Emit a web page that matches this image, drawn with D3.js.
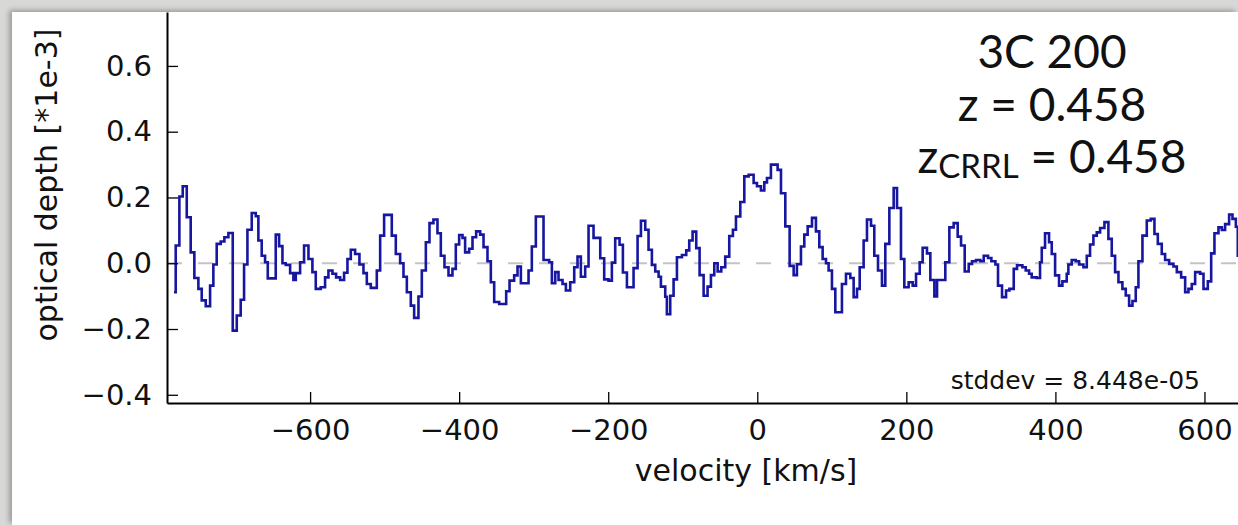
<!DOCTYPE html>
<meta charset="utf-8">
<style>
  body {
    margin: 0;
    background: #d8d8d6;
    width: 1238px;
    height: 525px;
    overflow: hidden;
  }
  #panel {
    position: absolute;
    left: 12px; top: 12px;
    width: 1226px; height: 513px;
    background: #fff;
    box-shadow: -3px -2px 5px rgba(0,0,0,0.28);
  }
  svg { position: absolute; left: 0; top: 0; }
  text { font-family: 'DejaVu Sans', sans-serif; fill: #111; }
  .tick line { stroke: #000; stroke-width: 1.3; }
  .domain { stroke: #000; stroke-width: 2; }
</style>
<body>
<div id="panel"></div>
<script src="https://cdn.jsdelivr.net/npm/d3@7"></script>
<script>

// left edge of each channel [km/s]
var velEdges = [
  -782.6, -780.3, -775.4, -770.9, -765.5, -760.2, -755.3, -749.9, -745.4, -740.0,
  -734.2, -729.8, -725.3, -719.9, -715.0, -709.6, -703.8, -698.4, -693.1, -688.6,
  -684.1, -678.3, -672.9, -669.4, -664.9, -660.4, -656.8, -646.1, -641.6, -637.1,
  -632.7, -626.8, -622.4, -619.2, -613.4, -608.1, -602.2, -596.9, -592.4, -585.7,
  -579.9, -575.4, -570.0, -565.1, -559.7, -554.4, -549.9, -545.4, -539.6, -533.8,
  -528.4, -523.9, -518.6,
  -510.5, -506.0, -500.7, -490.4, -485.0, -479.2, -474.7, -470.2, -464.9, -460.4,
  -454.6, -450.1, -444.7, -439.8, -434.5, -429.1, -424.6, -419.7, -414.3, -409.0,
  -404.5, -400.0, -395.5, -392.0, -386.6, -382.1, -377.2, -371.8, -367.3, -362.0,
  -357.5, -353.0, -346.3, -336.9, -332.4, -326.2, -321.7, -317.2, -306.9, -302.5,
  -297.1, -286.8, -279.2, -275.6, -271.1, -266.7, -261.3, -256.8, -251.0, -245.6,
  -241.2, -236.7, -230.9, -226.4, -219.7,
  -210.7, -205.4, -199.6, -195.1, -190.6, -184.8, -180.3, -174.9, -166.0, -160.6,
  -156.1, -150.3, -145.9, -141.4, -136.9, -132.4, -129.3, -123.5, -121.3, -116.8,
  -112.3, -107.8, -101.1, -95.3, -91.3, -86.8, -81.9, -77.4, -72.0, -66.7,
  -62.2, -57.7, -53.2, -48.3, -43.0, -37.6, -32.7, -28.6, -22.8, -17.4,
  -11.6, -4.9, -0.4, 4.9, 9.4, 13.0, 18.3, 27.3, 31.8, 37.6,
  43.4, 48.8, 53.2, 58.6, 63.1, 67.6,
  73.4, 78.7, 83.2, 87.7, 92.2, 95.7, 100.2, 104.7, 113.6, 119.0,
  124.8, 129.3, 133.8, 137.4, 142.7, 147.2, 152.6, 157.0, 162.0, 167.3,
  171.8, 177.2, 183.0, 187.5, 192.8, 197.3, 203.1, 208.5, 213.0, 217.9,
  221.9, 227.7, 232.2, 237.6, 241.2, 252.3, 257.7, 263.5, 268.9, 273.4,
  278.3, 283.7, 288.1, 293.5, 299.3, 303.8, 309.6, 314.1, 319.5, 323.0,
  328.4, 333.8, 338.3, 344.1, 348.5,
  355.7, 360.2, 364.7, 368.2, 374.9, 379.4, 381.7, 386.1, 391.5, 395.1,
  399.6, 404.9, 409.4, 415.2, 417.4, 421.9, 427.3, 431.8, 437.6, 442.1,
  446.5, 451.0, 455.5, 460.0, 465.8, 471.1, 475.6, 480.1, 484.6, 489.9,
  494.4, 498.9, 503.4, 507.8, 511.4, 516.8, 522.6, 528.0, 532.9, 537.4,
  542.7, 547.2, 552.6, 558.4, 562.9, 568.7, 574.1, 578.5, 583.0, 587.5,
  594.2, 598.7, 604.5, 609.0, 613.4, 618.8, 623.3, 627.7, 633.1, 637.6,
  642.1, 644.7, 650.0
];

// optical depth per channel [*1e-3]
var tau = [
  -0.088, 0.054, 0.203, 0.234, 0.140, 0.033, -0.045, -0.078, -0.113, -0.131,
  -0.068, -0.004, 0.059, 0.066, 0.079, 0.092, -0.205, -0.159, -0.111, -0.004,
  0.102, 0.153, 0.143, 0.069, 0.023, 0.003, -0.046, 0.087, 0.052, 0.000,
  -0.005, -0.030, -0.051, -0.030, 0.003, 0.054, 0.013, -0.027, -0.078, -0.073,
  -0.043, -0.022, -0.032, -0.043, -0.051, -0.029, 0.013, 0.041, 0.028, -0.004,
  -0.030, -0.063, -0.075,
  -0.022, 0.084, 0.147, 0.084, 0.028, 0.000, -0.041, -0.088, -0.129, -0.166,
  -0.101, -0.022, 0.064, 0.122, 0.133, 0.091, 0.023, -0.012, -0.037, -0.017,
  0.057, 0.086, 0.077, 0.033, 0.044, 0.079, 0.097, 0.087, 0.049, 0.006,
  -0.058, -0.118, -0.124, -0.085, -0.053, -0.037, -0.010, -0.061, -0.022, 0.051,
  0.142, 0.010, 0.003, -0.061, -0.027, -0.051, -0.063, -0.083, -0.058, -0.012,
  0.020, -0.041, -0.010, 0.114, 0.077,
  0.015, -0.049, -0.053, 0.002, 0.076, 0.056, -0.028, -0.073, -0.015, 0.083,
  0.129, 0.102, 0.041, -0.005, -0.025, -0.041, -0.071, -0.102, -0.155, -0.099,
  -0.049, 0.018, 0.025, 0.039, 0.069, 0.096, 0.046, -0.036, -0.099, -0.071,
  -0.036, 0.000, -0.025, -0.012, 0.020, 0.083, 0.102, 0.142, 0.186, 0.264,
  0.269, 0.244, 0.234, 0.221, 0.246, 0.259, 0.300, 0.284, 0.213, 0.112,
  -0.008, -0.036, -0.003, 0.051, 0.087, 0.112,
  0.138, 0.097, 0.049, 0.013, 0.000, -0.022, -0.078, -0.149, -0.063, -0.032,
  -0.045, -0.103, -0.078, -0.012, 0.069, 0.133, 0.114, 0.023, -0.022, -0.068,
  0.059, 0.168, 0.229, 0.168, 0.013, -0.073, -0.058, -0.068, -0.032, 0.003,
  0.047, 0.030, -0.051, -0.101, -0.051, 0.003, 0.109, 0.122, 0.081, 0.054,
  -0.025, -0.002, 0.006, 0.010, 0.006, 0.023, 0.016, 0.006, -0.004, -0.068,
  -0.103, -0.083, -0.078, -0.017, -0.006,
  -0.012, -0.022, -0.032, -0.043, -0.045, 0.003, 0.047, 0.091, 0.064, 0.028,
  -0.037, -0.068, -0.055, -0.032, -0.004, 0.010, 0.006, -0.004, -0.012, 0.023,
  0.057, 0.084, 0.094, 0.107, 0.125, 0.074, 0.023, -0.027, -0.058, -0.078,
  -0.098, -0.129, -0.115, -0.073, 0.006, 0.084, 0.130, 0.135, 0.089, 0.059,
  0.028, 0.010, -0.002, -0.010, -0.027, -0.043, -0.088, -0.078, -0.063, -0.027,
  -0.032, -0.078, -0.055, 0.030, 0.091, 0.109, 0.101, 0.119, 0.148, 0.135,
  0.111, 0.023, 0.023
];

var xTicks = [-600, -400, -200, 0, 200, 400, 600];
var yTicks = [-0.4, -0.2, 0.0, 0.2, 0.4, 0.6];

var data = velEdges.map(function(v, i) { return {v: v, t: tau[i]}; });

var x = d3.scaleLinear().domain([-792, 645]).range([167, 1238]);
var y = d3.scaleLinear().domain([-0.425, 0.764]).range([403, 12]);

var svg = d3.select("body").append("svg")
    .attr("width", 1238)
    .attr("height", 525);

svg.append("clipPath").attr("id", "plotclip")
  .append("rect")
    .attr("x", 167).attr("y", 12)
    .attr("width", 1238 - 167).attr("height", 403 - 12);

// zero line
svg.append("line")
    .attr("x1", 167).attr("x2", 1238)
    .attr("y1", y(0)).attr("y2", y(0))
    .attr("stroke", "#c4c4c4")
    .attr("stroke-width", 2)
    .attr("stroke-dasharray", "15,16");

// spectrum
svg.append("path")
    .datum(data)
    .attr("clip-path", "url(#plotclip)")
    .attr("fill", "none")
    .attr("stroke", "#1616a0")
    .attr("stroke-width", 2.6)
    .attr("stroke-linejoin", "miter")
    .attr("d", d3.line()
        .x(function(d) { return x(d.v); })
        .y(function(d) { return y(d.t); })
        .curve(d3.curveStepAfter));

// axes
var gx = svg.append("g")
    .attr("transform", "translate(0,403)")
    .call(d3.axisBottom(x).tickValues(xTicks).tickSize(-11).tickSizeOuter(0).tickPadding(16));
gx.selectAll("text").style("font-size", "29px");

var gy = svg.append("g")
    .attr("transform", "translate(167,0)")
    .call(d3.axisLeft(y).tickValues(yTicks).tickSize(-11).tickSizeOuter(0).tickPadding(15)
      .tickFormat(d3.format(".1f")));
gy.selectAll("text").style("font-size", "29px");

svg.selectAll(".tick text").attr("fill", "#111").style("font-family", "'DejaVu Sans', sans-serif");

// axis labels
svg.append("text")
    .attr("x", 746).attr("y", 481)
    .attr("text-anchor", "middle")
    .style("font-size", "30px")
    .text("velocity [km/s]");

svg.append("text")
    .attr("transform", "translate(57,185) rotate(-90)")
    .attr("text-anchor", "middle")
    .style("font-size", "30px")
    .text("optical depth [*1e-3]");

svg.append("text")
    .attr("x", 1200).attr("y", 389)
    .attr("text-anchor", "end")
    .style("font-size", "25px")
    .text("stddev = 8.448e-05");

// source annotation
var ann = svg.append("g")
    .attr("text-anchor", "middle");

ann.append("text").attr("x", 1052).attr("y", 68)
    .style("font-family", "Lato, sans-serif").style("font-size", "46px").attr("fill", "#000")
    .text("3C 200");
ann.append("text").attr("x", 1052).attr("y", 121)
    .style("font-family", "Lato, sans-serif").style("font-size", "46px").attr("fill", "#000")
    .text("z = 0.458");
var z3 = ann.append("text").attr("x", 1052).attr("y", 173)
    .style("font-family", "Lato, sans-serif").style("font-size", "46px").attr("fill", "#000");
z3.append("tspan").text("z");
z3.append("tspan").attr("dy", 5).style("font-size", "33px").text("CRRL");
z3.append("tspan").attr("dy", -5).text(" = 0.458");

</script>
</body>
